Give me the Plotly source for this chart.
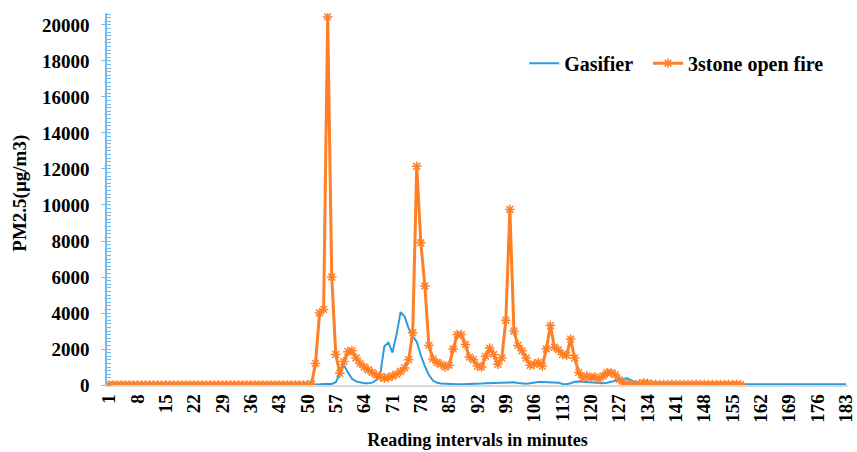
import plotly.graph_objects as go

# Reading intervals (minutes)
minutes = list(range(1, 184))

# Gasifier PM2.5 (µg/m3), readings 1..183
gasifier = [
    0, 0, 0, 0, 0, 0, 0, 0, 0, 0,
    0, 0, 0, 0, 0, 0, 0, 0, 0, 0,
    0, 0, 0, 0, 0, 0, 0, 0, 0, 0,
    0, 0, 0, 0, 0, 0, 0, 0, 0, 0,
    0, 0, 0, 0, 0, 0, 0, 0, 0, 0,
    20, 30, 40, 50, 50, 60, 150, 600, 1100, 700,
    350, 200, 130, 100, 100, 130, 280, 650, 2150, 2350,
    1800, 2800, 4050, 3800, 3150, 2700, 2400, 1650, 1050, 550,
    250, 120, 80, 60, 50, 40, 40, 40, 40, 40,
    50, 60, 80, 100, 110, 120, 130, 160, 170, 170,
    150, 110, 80, 70, 100, 140, 170, 170, 170, 165,
    160, 130, 60, 40, 100, 180, 190, 170, 140, 120,
    120, 110, 100, 120, 180, 220, 280, 340, 370, 250,
    130, 60, 40, 40, 40, 40, 40, 40, 40, 40,
    40, 40, 40, 40, 40, 40, 40, 40, 40, 40,
    40, 40, 40, 40, 40, 40, 40, 40, 40, 40,
    40, 40, 40, 40, 50, 60, 70, 60, 40, 40,
    40, 40, 50, 60, 50, 40, 40, 40, 40, 40,
    40, 40, 40,
]

# 3stone open fire PM2.5 (µg/m3), readings 1..157
open_fire = [
    0, 0, 0, 0, 0, 0, 0, 0, 0, 0,
    0, 0, 0, 0, 0, 0, 0, 0, 0, 0,
    0, 0, 0, 0, 0, 0, 0, 0, 0, 0,
    0, 0, 0, 0, 0, 0, 0, 0, 0, 0,
    0, 0, 0, 0, 0, 0, 0, 0, 0, 0,
    60, 1200, 4000, 4200, 20450, 6000, 1700, 650, 1300, 1850,
    1900, 1500, 1200, 1000, 850, 700, 550, 450, 380, 420,
    500, 600, 750, 950, 1400, 2900, 12150, 7900, 5500, 2200,
    1450, 1250, 1150, 1000, 1100, 2000, 2800, 2800, 2250, 1550,
    1400, 1050, 1000, 1600, 2050, 1700, 1150, 1500, 3600, 9750,
    3000, 2200, 1900, 1500, 1100, 1150, 1250, 1050, 2000, 3300,
    2100, 1950, 1700, 1650, 2550, 1500, 700, 400, 500, 420,
    450, 330, 500, 680, 690, 580, 300, 130, 50, 30,
    20, 60, 120, 100, 40, 20, 20, 20, 20, 20,
    20, 20, 20, 20, 20, 20, 20, 20, 20, 20,
    20, 20, 20, 20, 20, 20, 20,
]

x_ticks = list(range(1, 184, 7))
y_ticks = list(range(0, 20001, 2000))

font_family = "Liberation Serif"
BLUE = "#2C9DDC"
ORANGE = "#FF7F27"

fig = go.Figure()
fig.add_trace(go.Scatter(
    x=minutes, y=gasifier, name="Gasifier\u00a0\u00a0", mode="lines",
    line=dict(color=BLUE, width=2),
))
fig.add_trace(go.Scatter(
    x=minutes[:len(open_fire)], y=open_fire, name="3stone open fire",
    mode="lines+markers",
    line=dict(color=ORANGE, width=3),
    marker=dict(symbol="asterisk-open", size=8, color=ORANGE,
                line=dict(color=ORANGE, width=1.5)),
))

fig.update_layout(
    width=857, height=452,
    margin=dict(l=107, r=9, t=13, b=67),
    paper_bgcolor="white", plot_bgcolor="white",
    font=dict(family=font_family, size=17, color="black", weight="bold"),
    showlegend=True,
    legend=dict(orientation="h", x=0.563, y=0.865, xanchor="left",
                yanchor="middle", bgcolor="rgba(0,0,0,0)",
                font=dict(family=font_family, size=20, weight="bold"),
                itemwidth=30, tracegroupgap=0),
    xaxis=dict(
        range=[0.5, 183.5], tickmode="array", tickvals=x_ticks,
        ticktext=[str(v) for v in x_ticks], tickangle=-90,
        automargin=False, ticklabeloverflow="allow",
        showgrid=False, zeroline=False, showline=True,
        linecolor="#D9D9D9", linewidth=1.5, ticks="",
        tickfont=dict(family=font_family, size=19, weight="bold"),
        title=dict(text="Reading intervals in minutes", standoff=12,
                   font=dict(family=font_family, size=18, weight="bold")),
    ),
    yaxis=dict(
        range=[0, 20666], tickmode="array", tickvals=y_ticks,
        tickformat="d", automargin=False,
        showgrid=False, zeroline=False, showline=True,
        linecolor="#72BCEF", linewidth=1.5,
        ticks="outside", ticklen=4, tickcolor="#72BCEF", tickwidth=1,
        ticklabelstandoff=8,
        minor=dict(dtick=200, ticks="inside", ticklen=4,
                   tickcolor="#72BCEF", tickwidth=1, showgrid=False),
        tickfont=dict(family=font_family, size=19, weight="bold"),
    ),
    annotations=[dict(
        text="PM2.5(µg/m3)", textangle=-90, showarrow=False,
        xref="paper", yref="paper", x=-0.117, y=0.515,
        xanchor="center", yanchor="middle",
        font=dict(family=font_family, size=19, weight="bold"),
    )],
)

# remove the browser's default 8px body margin so the figure sits at (0, 0)
fig.write_html("out.html", config={"displayModeBar": False},
               post_script="document.body.style.margin='0';")
